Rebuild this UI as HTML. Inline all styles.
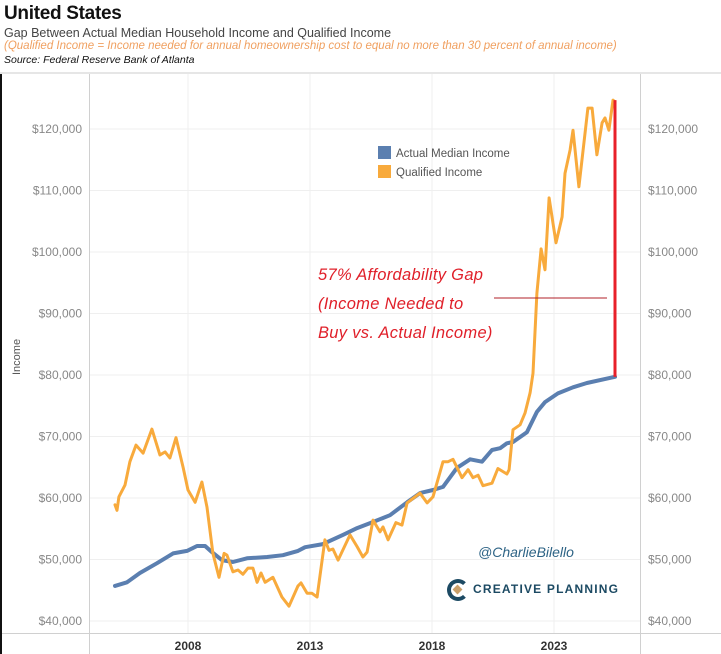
<!DOCTYPE html>
<html><head><meta charset="utf-8">
<style>
body{margin:0;width:721px;height:654px;overflow:hidden;background:#fff;font-family:"Liberation Sans",sans-serif;position:relative}
.t{position:absolute;white-space:nowrap}
</style></head><body>
<div class="t" style="left:4px;top:3px;font-size:19px;font-weight:bold;color:#111;letter-spacing:-0.3px">United States</div>
<div class="t" style="left:4px;top:26px;font-size:12.5px;color:#444">Gap Between Actual Median Household Income and Qualified Income</div>
<div class="t" style="left:4px;top:40px;font-size:11.5px;color:#f0a060;font-style:italic">(Qualified Income = Income needed for annual homeownership cost to equal no more than 30 percent of annual income)</div>
<div class="t" style="left:4px;top:54px;font-size:10.5px;color:#111;font-style:italic">Source: Federal Reserve Bank of Atlanta</div>
<svg width="721" height="654" style="position:absolute;left:0;top:0">
<g id="grid"></g><g id="axes"></g><g id="series"></g>
</svg>
<script>
const medYears=[2005.01,2005.50,2006.03,2006.73,2007.39,2007.96,2008.37,2008.70,2008.98,2009.39,2009.84,2010.42,2011.24,2011.89,2012.51,2012.80,2013.53,2014.35,2014.93,2015.58,2016.28,2016.98,2017.51,2018.04,2018.45,2019.02,2019.56,2020.05,2020.46,2020.79,2021.07,2021.32,2021.89,2022.30,2022.63,2023.16,2023.78,2024.35,2025.50];
const medIncome=[45700,46300,47800,49400,51000,51400,52200,52200,51200,49900,49600,50200,50400,50700,51400,52000,52500,54000,55100,56100,57200,59300,60800,61300,61800,64900,66300,65900,67800,68100,68900,69100,70700,74000,75600,77000,78000,78700,79700];
const qualYears=[2005.01,2005.09,2005.17,2005.42,2005.62,2005.87,2006.16,2006.52,2006.85,2007.06,2007.26,2007.51,2007.80,2008.00,2008.29,2008.57,2008.78,2009.02,2009.27,2009.48,2009.60,2009.84,2010.05,2010.25,2010.46,2010.66,2010.83,2010.99,2011.16,2011.48,2011.85,2012.14,2012.51,2012.63,2012.88,2013.08,2013.29,2013.61,2013.78,2013.94,2014.15,2014.64,2014.93,2015.17,2015.34,2015.58,2015.87,2015.99,2016.20,2016.52,2016.77,2016.98,2017.51,2017.80,2018.04,2018.45,2018.66,2018.86,2019.23,2019.48,2019.68,2019.89,2020.09,2020.46,2020.70,2021.07,2021.16,2021.32,2021.61,2021.81,2022.02,2022.14,2022.30,2022.47,2022.63,2022.80,2023.08,2023.33,2023.45,2023.66,2023.78,2024.02,2024.39,2024.56,2024.76,2024.97,2025.09,2025.25,2025.42,2025.50];
const qualIncome=[58900,58000,60200,62100,65900,68600,67300,71200,67000,67500,66500,69800,65000,61300,59300,62600,58500,51000,47100,51000,50700,48000,48300,47600,48600,48600,46300,47800,46300,47100,43900,42400,45700,46200,44500,44500,43900,53200,51500,51700,49900,54000,52100,50400,51200,56400,54500,55300,53200,56000,55600,59200,60800,59200,60200,65900,65900,66300,63300,64600,63300,63700,62000,62400,64800,63900,64600,71100,71900,73800,77100,80300,93300,100500,97100,108800,101500,105700,112800,116600,119800,110600,123400,123400,115800,121000,121800,119800,124700,124400];
const yTicks=[40000,50000,60000,70000,80000,90000,100000,110000,120000];
const xTicks=[2008,2013,2018,2023];
const gapTop=124700, gapBottom=79700, gapYear=2025.5;

const X=t=>188+(t-2008)*24.4;
const Y=v=>129+(120000-v)*0.00615;
const NS='http://www.w3.org/2000/svg';
function mk(parent,tag,attrs){const e=document.createElementNS(NS,tag);for(const k in attrs)e.setAttribute(k,attrs[k]);document.getElementById(parent).appendChild(e);return e;}
const fmt=v=>'$'+v.toLocaleString('en-US');

let e=mk('axes','rect',{x:0,y:72,width:721,height:2,fill:'#e6e6e6'});


e=mk('axes','rect',{x:0,y:74,width:2,height:580,fill:'#111'});



yTicks.forEach(v=>{
  const g=mk('grid','line',{x1:90,x2:640,y1:Y(v),y2:Y(v),stroke:'#efefef','stroke-width':1});
  
  
  const l=mk('axes','text',{x:82,y:Y(v)+4,'text-anchor':'end','font-size':12,fill:'#888'});
  l.textContent=fmt(v);
  
  
  const r=mk('axes','text',{x:648,y:Y(v)+4,'font-size':12,fill:'#888'});
  r.textContent=fmt(v);
  
  
});
xTicks.forEach(t=>{
  const g=mk('grid','line',{x1:X(t),x2:X(t),y1:74,y2:633,stroke:'#efefef','stroke-width':1});
  
  
  const l=mk('axes','text',{x:X(t),y:650,'text-anchor':'middle','font-size':12,'font-weight':'bold',fill:'#333'});
  l.textContent=t;
  
  
});
e=mk('axes','line',{x1:89.5,x2:89.5,y1:74,y2:654,stroke:'#d0d0d0'});


e=mk('axes','line',{x1:640.5,x2:640.5,y1:74,y2:654,stroke:'#d0d0d0'});


e=mk('axes','line',{x1:2,x2:721,y1:633.5,y2:633.5,stroke:'#d0d0d0'});


e=mk('axes','text',{x:0,y:0,'font-size':11,fill:'#555',transform:'translate(20,375) rotate(-90)'});
e.textContent='Income';



const path=(xs,ys)=>xs.map((t,i)=>(i?'L':'M')+X(t).toFixed(1)+','+Y(ys[i]).toFixed(1)).join('');
e=mk('series','path',{d:path(medYears,medIncome),fill:'none',stroke:'#5b7fb0','stroke-width':4,'stroke-linejoin':'round','stroke-linecap':'round'});


e=mk('series','path',{d:path(qualYears,qualIncome),fill:'none',stroke:'#f8aa3c','stroke-width':3,'stroke-linejoin':'round','stroke-linecap':'round'});


e=mk('series','line',{x1:X(gapYear),x2:X(gapYear),y1:Y(gapTop),y2:Y(gapBottom),stroke:'#e8202a','stroke-width':3});


e=mk('series','line',{x1:494,x2:607,y1:298,y2:298,stroke:'#b02028','stroke-width':1});


</script>
<div style="position:absolute;left:378px;top:146px;font-size:11.5px;color:#555">
  <div style="height:19px"><span style="display:inline-block;width:13px;height:13px;background:#5b7fb0;vertical-align:-2px;margin-right:5px"></span>Actual Median Income</div>
  <div><span style="display:inline-block;width:13px;height:13px;background:#f8aa3c;vertical-align:-2px;margin-right:5px"></span>Qualified Income</div>
</div>
<div style="position:absolute;left:318px;top:261px;font-size:16.5px;color:#e0202a;line-height:29px;font-style:italic;letter-spacing:0.3px">57% Affordability Gap<br>(Income Needed to<br>Buy vs. Actual Income)</div>
<div class="t" style="left:478px;top:544px;font-size:14px;color:#2d6385;font-style:italic">@CharlieBilello</div>
<div style="position:absolute;left:447px;top:578px;width:170px;height:24px">
  <div style="position:absolute;left:0;top:1px;width:14px;height:14px;border:4px solid #1c4a63;border-right-color:transparent;border-radius:50%"></div>
  <div style="position:absolute;left:7px;top:8px;width:7px;height:7px;background:#c9a06a;transform:rotate(45deg)"></div>
  <div class="t" style="left:26px;top:4px;font-size:12px;font-weight:bold;color:#1c4a63;letter-spacing:1.2px">CREATIVE PLANNING</div>
</div>
</body></html>
